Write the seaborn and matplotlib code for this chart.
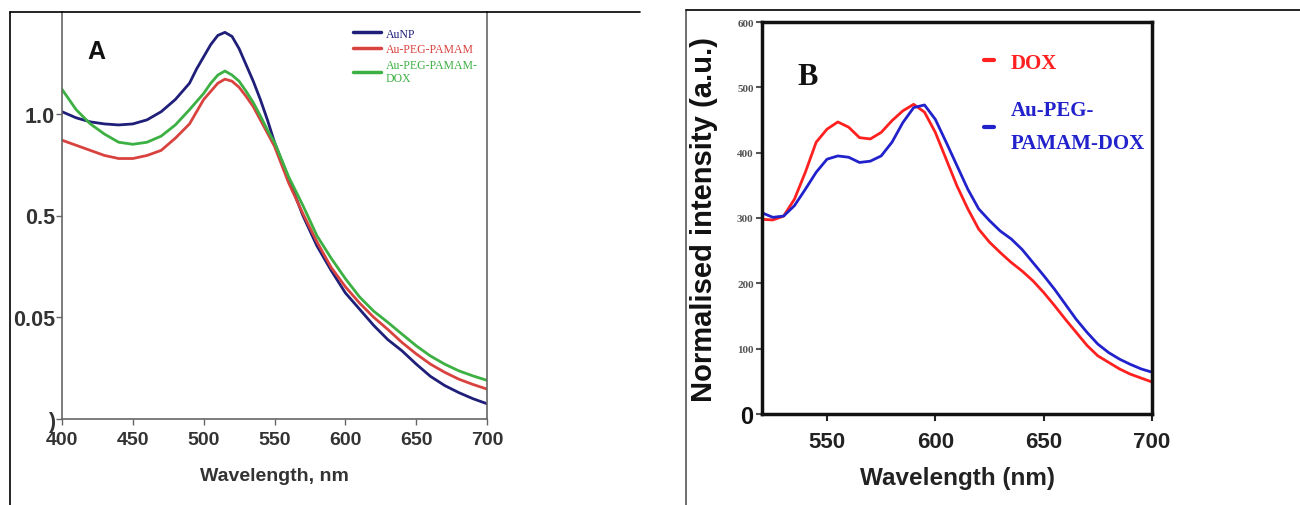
import matplotlib
matplotlib.use("Agg")
import matplotlib.pyplot as plt
import pandas as pd
import seaborn as sns
from matplotlib.lines import Line2D

# ---- Panel A: UV-vis absorbance (values in axis units, ticks are mislabelled in the source) ----
wl_a = [400, 410, 420, 430, 440, 450, 460, 470, 480, 490, 495, 500, 505, 510, 515, 520,
        525, 530, 535, 540, 545, 550, 560, 570, 580, 590, 600, 610, 620, 630, 640, 650,
        660, 670, 680, 690, 700]
aunp = [1.51, 1.48, 1.46, 1.45, 1.445, 1.45, 1.47, 1.51, 1.57, 1.65, 1.72, 1.78, 1.84,
        1.885, 1.90, 1.88, 1.82, 1.74, 1.66, 1.57, 1.47, 1.36, 1.18, 1.00, 0.85, 0.73,
        0.62, 0.54, 0.46, 0.39, 0.335, 0.27, 0.21, 0.165, 0.13, 0.10, 0.075]
au_peg_pamam = [1.37, 1.345, 1.32, 1.295, 1.28, 1.28, 1.295, 1.32, 1.38, 1.45, 1.51, 1.57,
                1.61, 1.65, 1.67, 1.66, 1.63, 1.585, 1.535, 1.47, 1.405, 1.34, 1.16, 1.01,
                0.87, 0.745, 0.65, 0.57, 0.50, 0.44, 0.376, 0.32, 0.27, 0.23, 0.196,
                0.17, 0.147]
au_peg_pamam_dox = [1.62, 1.52, 1.45, 1.40, 1.36, 1.35, 1.36, 1.39, 1.445, 1.52, 1.56,
                    1.60, 1.65, 1.69, 1.71, 1.69, 1.66, 1.61, 1.555, 1.49, 1.42, 1.36,
                    1.19, 1.05, 0.90, 0.79, 0.69, 0.60, 0.53, 0.475, 0.417, 0.36, 0.31,
                    0.27, 0.237, 0.212, 0.19]
a_names = ["AuNP", "Au-PEG-PAMAM", "Au-PEG-PAMAM-\nDOX"]
a_colors = ["#1f1f7a", "#d9433f", "#3cb043"]
a_ytick_pos = [0.0, 0.5, 1.0, 1.5]
a_ytick_labels = [")", "0.05", "0.5", "1.0"]
a_xticks = [400, 450, 500, 550, 600, 650, 700]

# ---- Panel B: fluorescence ----
wl_b = [520, 525, 530, 535, 540, 545, 550, 555, 560, 565, 570, 575, 580, 585, 590, 595,
        600, 605, 610, 615, 620, 625, 630, 635, 640, 645, 650, 655, 660, 665, 670, 675,
        680, 685, 690, 695, 700]
dox = [298, 297, 303, 329, 370, 416, 436, 447, 439, 423, 421, 431, 449, 464, 474, 462,
       431, 390, 349, 314, 283, 263, 247, 232, 219, 204, 186, 166, 145, 125, 105, 89,
       79, 69, 61, 55, 49]
au_dox = [308, 301, 303, 319, 344, 370, 390, 395, 393, 385, 387, 395, 416, 446, 469, 473,
          451, 416, 380, 344, 314, 296, 280, 268, 252, 232, 212, 191, 168, 145, 125, 107,
          94, 84, 76, 69, 64]
b_names = ["DOX", "Au-PEG-\nPAMAM-DOX"]
b_colors = ["#ff2020", "#2222cc"]
b_yticks = [0, 100, 200, 300, 400, 500, 600]
b_xticks = [550, 600, 650, 700]

sns.set_theme(style="white")
plt.rcParams["font.family"] = ["Liberation Sans", "DejaVu Sans"]

fig = plt.figure(figsize=(13, 5.06), dpi=100)

# outer frames of the two panels
fig.add_artist(Line2D([10 / 1300, 10 / 1300], [0, 1 - 13 / 506], color="black", lw=1.2))
fig.add_artist(Line2D([10 / 1300, 640 / 1300], [1 - 13 / 506, 1 - 13 / 506], color="black", lw=1.2))
fig.add_artist(Line2D([686 / 1300, 686 / 1300], [0, 1 - 11 / 506], color="#555555", lw=1.2))
fig.add_artist(Line2D([686 / 1300, 1.0], [1 - 11 / 506, 1 - 11 / 506], color="black", lw=1.2))

# ---------- Panel A ----------
ax1 = fig.add_axes([62 / 1300, 1 - 420 / 506, (487 - 62) / 1300, (420 - 13) / 506])
df_a = pd.DataFrame({"wl": wl_a * 3,
                     "val": aunp + au_peg_pamam + au_peg_pamam_dox,
                     "sample": sum([[n] * len(wl_a) for n in a_names], [])})
sns.lineplot(data=df_a, x="wl", y="val", hue="sample", palette=a_colors,
             linewidth=2, ax=ax1)
ax1.set_xlim(400, 700)
ax1.set_ylim(0, 2.0)
ax1.set_xticks(a_xticks)
ax1.set_yticks(a_ytick_pos)
ax1.set_yticklabels(a_ytick_labels)
ax1.tick_params(axis="x", labelsize=14, length=4, width=1, color="#666666",
                direction="out", bottom=True, pad=5)
ax1.tick_params(axis="y", labelsize=15.5, length=4, width=1, color="#666666",
                direction="out", left=True, pad=1)
for lab in ax1.get_xticklabels() + ax1.get_yticklabels():
    lab.set_fontweight("bold")
    lab.set_color("#333333")
ax1.spines["top"].set_visible(False)
for s in ["left", "right", "bottom"]:
    ax1.spines[s].set_color("#666666")
    ax1.spines[s].set_linewidth(1.2)
ax1.set_xlabel("Wavelength, nm", fontsize=14, fontweight="bold", color="#333333", labelpad=13)
ax1.set_ylabel("")
ax1.text(0.06, 0.905, "A", transform=ax1.transAxes, fontsize=18, fontweight="bold",
         color="#111111", ha="left", va="center")
leg1 = ax1.legend(loc="upper right", bbox_to_anchor=(1.0, 0.985), frameon=True,
                  framealpha=1, edgecolor="white", fancybox=False,
                  prop={"family": "Liberation Serif", "size": 8.5},
                  labelcolor="linecolor", handlelength=2.4, handletextpad=0.4,
                  labelspacing=0.3, borderpad=0.3)
for h in leg1.get_lines():
    h.set_linewidth(2.5)

# ---------- Panel B ----------
ax2 = fig.add_axes([762 / 1300, 1 - 415 / 506, (1152 - 762) / 1300, (415 - 23) / 506])
df_b = pd.DataFrame({"wl": wl_b * 2,
                     "val": dox + au_dox,
                     "sample": sum([[n] * len(wl_b) for n in b_names], [])})
sns.lineplot(data=df_b, x="wl", y="val", hue="sample", palette=b_colors,
             linewidth=2, ax=ax2)
ax2.set_xlim(520, 700)
ax2.set_ylim(0, 600)
ax2.set_xticks(b_xticks)
ax2.set_yticks(b_yticks)
for s in ax2.spines.values():
    s.set_color("#111111")
    s.set_linewidth(2.5)
ax2.tick_params(axis="x", labelsize=16, length=5, width=1.5, direction="out",
                bottom=True, pad=7, colors="#222222")
ax2.tick_params(axis="y", labelsize=8, length=4, width=1.5, direction="out",
                left=True, pad=2, colors="#555555")
for lab in ax2.get_xticklabels():
    lab.set_fontweight("bold")
for lab in ax2.get_yticklabels():
    lab.set_fontfamily("Liberation Serif")
    lab.set_fontweight("bold")
zero = ax2.get_yticklabels()[0]
zero.set_fontsize(17)
zero.set_fontfamily("Liberation Sans")
zero.set_color("#111111")
ax2.set_xlabel("Wavelength (nm)", fontsize=17.5, fontweight="bold", color="#222222", labelpad=10)
ax2.set_ylabel("Normalised intensity (a.u.)", fontsize=21, fontweight="bold",
               color="#111111", labelpad=14)
ax2.text(0.09, 0.86, "B", transform=ax2.transAxes, fontsize=22, fontweight="bold",
         fontfamily="Liberation Serif", color="#111111", ha="left", va="center")
leg2 = ax2.legend(loc="upper left", bbox_to_anchor=(0.52, 0.97), frameon=False,
                  prop={"family": "Liberation Serif", "size": 15, "weight": "bold"},
                  labelcolor="linecolor", handlelength=0.5, handletextpad=0.8,
                  labelspacing=1.3)
for t in leg2.get_texts():
    t.set_linespacing(1.9)
for h in leg2.get_lines():
    h.set_linewidth(3)

fig.savefig("out.png", dpi=100, facecolor="white")
